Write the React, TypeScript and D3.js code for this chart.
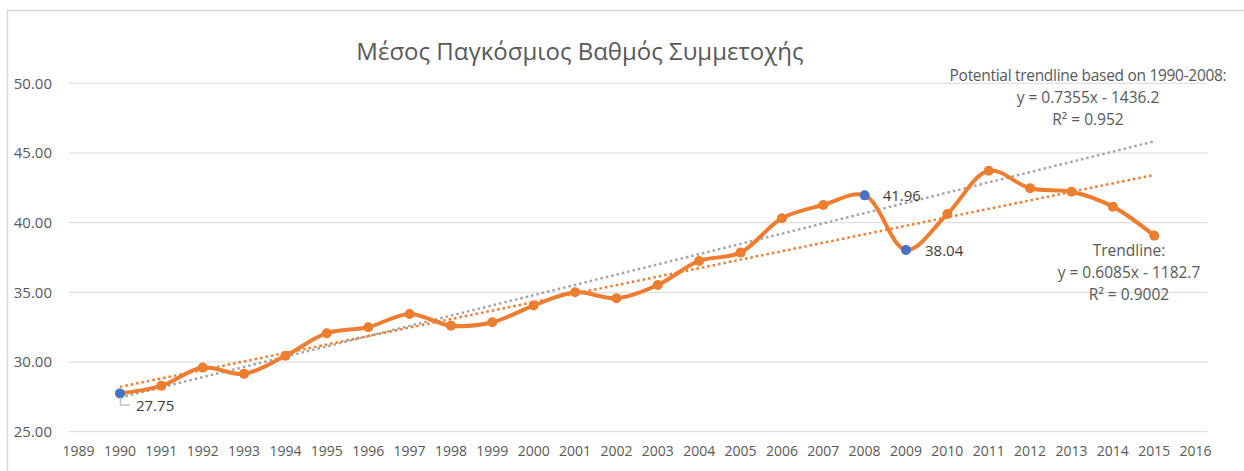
import React from "react";
import * as d3 from "d3";

const years = [1990, 1991, 1992, 1993, 1994, 1995, 1996, 1997, 1998, 1999, 2000, 2001, 2002, 2003, 2004, 2005, 2006, 2007, 2008, 2009, 2010, 2011, 2012, 2013, 2014, 2015];
const values = [27.75, 28.29, 29.6, 29.15, 30.45, 32.07, 32.5, 33.45, 32.61, 32.85, 34.05, 35.01, 34.58, 35.53, 37.25, 37.85, 40.32, 41.27, 41.96, 38.04, 40.62, 43.73, 42.47, 42.22, 41.15, 39.07];
const highlightYears = [1990, 2008, 2009];
const xTicks = [1989, 1990, 1991, 1992, 1993, 1994, 1995, 1996, 1997, 1998, 1999, 2000, 2001, 2002, 2003, 2004, 2005, 2006, 2007, 2008, 2009, 2010, 2011, 2012, 2013, 2014, 2015, 2016];
const yTicks = [25, 30, 35, 40, 45, 50];

const trendSlope = 0.6085;
const trendIntercept = -1182.7;
const potentialSlope = 0.7355;
const potentialIntercept = -1436.2;

const title = "Μέσος Παγκόσμιος Βαθμός Συμμετοχής";
const potentialLines = ["Potential trendline based on 1990-2008:", "y = 0.7355x - 1436.2", "R² = 0.952"];
const trendLines = ["Trendline:", "y = 0.6085x - 1182.7", "R² = 0.9002"];

const W = 1244;
const H = 471;
const FONT = "'Open Sans', 'Noto Sans', sans-serif";

export default function App() {
  const x = d3.scaleLinear().domain([1989, 2016]).range([78.6, 1195.6]);
  const y = d3.scaleLinear().domain([25, 50]).range([431.7, 83.3]);
  const pts: [number, number][] = years.map((yr, i) => [x(yr), y(values[i])]);
  const line = d3.line().curve(d3.curveCatmullRom.alpha(0.5))(pts) || "";
  const x0 = years[0];
  const x1 = years[years.length - 1];
  const trend = (s: number, b: number) =>
    d3.line()([
      [x(x0), y(s * x0 + b)],
      [x(x1), y(s * x1 + b)],
    ]) || "";
  const gridX0 = x(1989) - 10;
  const gridX1 = x(2016) + 12;
  const valOf = (yr: number) => values[years.indexOf(yr)];

  return (
    <svg width={W} height={H} style={{ position: "absolute", left: 0, top: 0, background: "#fff" }} fontFamily={FONT}>
      <rect x={7.5} y={10.5} width={1300} height={600} fill="#fff" stroke="#d9d9d9" strokeWidth={1.5} />
      {yTicks.map((t) => (
        <g key={t}>
          <line x1={gridX0} x2={gridX1} y1={y(t)} y2={y(t)} stroke="#d9d9d9" strokeWidth={1} />
          <text x={52} y={y(t)} dy="0.35em" textAnchor="end" fontSize={15} fill="#595959">
            {t.toFixed(2)}
          </text>
        </g>
      ))}
      {xTicks.map((t) => (
        <text key={t} x={x(t)} y={451} dy="0.35em" textAnchor="middle" fontSize={14} fill="#595959">
          {t}
        </text>
      ))}
      <text x={580} y={52} dy="0.35em" textAnchor="middle" fontSize={24} fill="#595959">
        {title}
      </text>
      <path d={trend(potentialSlope, potentialIntercept)} fill="none" stroke="#a5a5a5" strokeWidth={2.5} strokeDasharray="2.5 3" />
      <path d={trend(trendSlope, trendIntercept)} fill="none" stroke="#ed7d31" strokeWidth={2.5} strokeDasharray="2.5 3" />
      <path d={line} fill="none" stroke="#ed7d31" strokeWidth={4} strokeLinecap="round" strokeLinejoin="round" />
      {years.map((yr, i) => (
        <circle
          key={yr}
          cx={x(yr)}
          cy={y(values[i])}
          r={5}
          fill={highlightYears.includes(yr) ? "#4472c4" : "#ed7d31"}
        />
      ))}
      <path
        d={`M${x(1990) + 0.5},${y(valOf(1990)) + 4}V${y(valOf(1990)) + 11.5}H${x(1990) + 10}`}
        fill="none"
        stroke="#bfbfbf"
        strokeWidth={1.5}
      />
      <text x={x(1990) + 16} y={y(valOf(1990)) + 12} dy="0.35em" fontSize={15} fill="#404040">
        {valOf(1990).toFixed(2)}
      </text>
      <text x={x(2008) + 18} y={y(valOf(2008))} dy="0.35em" fontSize={15} fill="#404040">
        {valOf(2008).toFixed(2)}
      </text>
      <text x={x(2009) + 19} y={y(valOf(2009)) + 1} dy="0.35em" fontSize={15} fill="#404040">
        {valOf(2009).toFixed(2)}
      </text>
      {potentialLines.map((s, i) => (
        <text key={s} x={1088} y={76 + i * 22} dy="0.35em" textAnchor="middle" fontSize={15.5} fill="#595959" letterSpacing={i === 0 ? -0.3 : 0}>
          {s}
        </text>
      ))}
      {trendLines.map((s, i) => (
        <text key={s} x={1129} y={251 + i * 22} dy="0.35em" textAnchor="middle" fontSize={15.5} fill="#595959">
          {s}
        </text>
      ))}
    </svg>
  );
}
